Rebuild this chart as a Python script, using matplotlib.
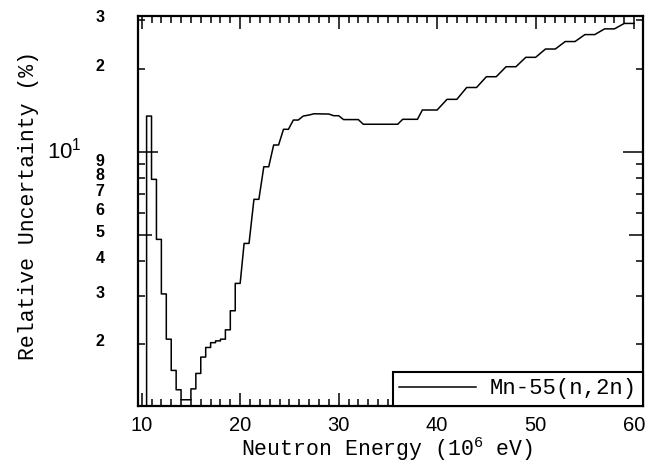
import matplotlib
matplotlib.use('Agg')
import matplotlib.pyplot as plt
from matplotlib.transforms import ScaledTranslation

# curve vertices (MeV, %)
energy = [10.5, 10.5, 11.0, 11.0, 11.5, 11.5, 12.0, 12.0, 12.5, 12.5, 13.0, 13.0,
          13.5, 13.5, 14.0, 14.0, 15.0, 15.0, 15.5, 15.5, 16.0, 16.0, 16.5, 16.5,
          17.0, 17.0, 17.5, 17.5, 18.0, 18.0, 18.5, 18.5, 19.0, 19.0, 19.5, 19.5,
          20.0, 20.4, 20.9, 21.4, 21.9, 22.4, 22.9, 23.4, 23.9, 24.4, 24.9, 25.4,
          25.9, 26.4, 27.0, 27.5, 29.0, 29.5, 30.0, 30.5, 32.0, 32.5, 36.0, 36.5,
          38.0, 38.5, 40.0, 41.0, 42.0, 43.0, 44.0, 45.0, 46.0, 47.0, 48.0, 49.0,
          50.0, 51.0, 52.0, 53.0, 54.0, 55.0, 56.0, 57.0, 58.0, 59.0, 60.0]
uncert = [1.0, 13.47, 13.47, 7.94, 7.94, 4.81, 4.81, 3.05, 3.05, 2.09, 2.09, 1.61,
          1.61, 1.37, 1.37, 1.26, 1.26, 1.38, 1.38, 1.57, 1.57, 1.80, 1.80, 1.95,
          1.95, 2.03, 2.03, 2.06, 2.06, 2.09, 2.09, 2.26, 2.26, 2.65, 2.65, 3.33,
          3.33, 4.65, 4.65, 6.72, 6.72, 8.82, 8.82, 10.58, 10.58, 12.06, 12.06, 13.03,
          13.03, 13.47, 13.59, 13.73, 13.70, 13.51, 13.51, 13.08, 13.08, 12.58, 12.58, 13.11,
          13.11, 14.17, 14.17, 15.49, 15.49, 17.10, 17.10, 18.71, 18.71, 20.34, 20.34, 22.0,
          22.0, 23.58, 23.58, 25.1, 25.1, 26.6, 26.6, 27.9, 27.9, 29.2, 29.2]

series_label = 'Mn-55(n,2n)'
y_major = [10]
y_major_labels = [r'$\mathregular{10^1}$']
y_minor = [2, 3, 4, 5, 6, 7, 8, 9, 20, 30]
y_minor_labels = ['2', '3', '4', '5', '6', '7', '8', '9', '2', '3']
x_major = [10, 20, 30, 40, 50, 60]

mono = 'Liberation Mono'
tickfont = 'Liberation Sans'

fig = plt.figure(figsize=(6.59, 4.69), dpi=100)
ax = fig.add_axes([0.209, 0.1343, 0.7667, 0.8316])

ax.plot(energy, uncert, color='black', lw=1.1, label=series_label)

ax.set_yscale('log')
ax.set_xlim(9.6, 60.9)
ax.set_ylim(1.196, 31.07)

ax.set_xticks(x_major)
ax.set_xticks(range(10, 61), minor=True)
ax.set_xticklabels([str(v) for v in x_major], fontfamily=tickfont, fontsize=14.5)
ax.set_yticks(y_major)
ax.set_yticklabels(y_major_labels, fontfamily=tickfont, fontsize=16)
ax.set_yticks(y_minor, minor=True)
ax.set_yticklabels(y_minor_labels, minor=True, fontfamily=tickfont, fontsize=11.5,
                   fontweight='bold')

for s in ax.spines.values():
    s.set_linewidth(1.6)

ax.tick_params(which='both', direction='in', top=True, right=True, width=1.1)
ax.tick_params(axis='x', which='major', length=9.5, pad=7)
ax.tick_params(axis='x', which='minor', length=5)
ax.tick_params(axis='y', which='major', length=14.5, pad=40)
ax.tick_params(axis='y', which='minor', length=5, pad=24)

# the 5 tick is a bit longer
for t, v in zip(ax.yaxis.get_minor_ticks(), y_minor):
    if v == 5:
        t.tick1line.set_markersize(10)
        t.tick2line.set_markersize(10)

# labels sit slightly above their ticks
for lab in ax.get_yticklabels(which='both'):
    lab.set_transform(lab.get_transform() + ScaledTranslation(0, 3 / 72, fig.dpi_scale_trans))

ax.set_xlabel(r'Neutron Energy (10$^{\mathregular{6}}$ eV)', fontfamily=mono, fontsize=15.5)
ax.set_ylabel('Relative Uncertainty (%)', fontfamily=mono, fontsize=15.5)
ax.xaxis.label.set_va('center')
ax.yaxis.label.set_va('center')
ax.xaxis.set_label_coords(0.493, -0.11)
ax.yaxis.set_label_coords(-0.217, 0.515)

leg = ax.legend(loc='lower right', prop={'family': mono, 'size': 16}, fancybox=False,
                edgecolor='black', framealpha=1, borderaxespad=0, handlelength=3.45,
                handletextpad=0.6, borderpad=0.3)
leg.get_frame().set_linewidth(1.5)

fig.savefig('out.png', dpi=100)
